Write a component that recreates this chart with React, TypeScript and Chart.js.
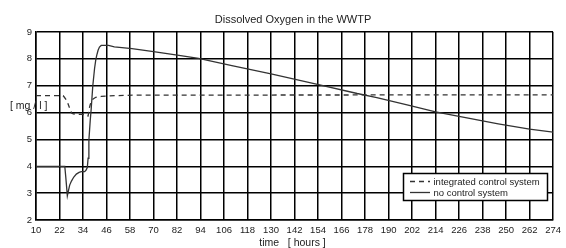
import React, { useEffect, useRef } from 'react';
import { Chart, registerables } from 'chart.js';

Chart.register(...registerables);

const titleText = 'Dissolved Oxygen in the WWTP';
const xTitleText = 'time   [ hours ]';
const yTitleText = '[ mg / l ]';
const legendLabels = ['integrated control system', 'no control system'];

const xTicks = [10, 22, 34, 46, 58, 70, 82, 94, 106, 118, 130, 142, 154, 166, 178, 190, 202, 214, 226, 238, 250, 262, 274];
const yMin = 2;
const yMax = 9;

const noControlHours = [10, 24.7, 25.2, 26.0, 26.6, 27.2, 28.1, 29.3, 30.6, 32, 33.1, 34.8, 35.5, 36.2, 36.6, 37.0, 37.7, 38.2, 39.0, 39.9, 40.5, 41.0, 41.7, 42.4, 43.3, 47, 50, 59, 70, 83, 93, 110, 130, 152, 174, 184, 200, 214, 230, 246, 262, 274];
const noControlValues = [4.0, 4.0, 3.6, 2.9, 3.1, 3.3, 3.45, 3.6, 3.71, 3.77, 3.8, 3.8, 3.85, 3.95, 4.3, 4.97, 5.72, 6.15, 7.0, 7.64, 7.95, 8.13, 8.32, 8.44, 8.5, 8.5, 8.45, 8.38, 8.27, 8.13, 8.02, 7.75, 7.44, 7.08, 6.71, 6.56, 6.28, 6.03, 5.8, 5.58, 5.38, 5.27];

const integratedHours = [10, 23.8, 24.4, 25.6, 26.3, 27.0, 27.6, 28.2, 29, 31, 33, 35.4, 36.0, 36.6, 37.2, 37.7, 38.2, 39.0, 40.5, 43.3, 50, 60, 274];
const integratedValues = [6.63, 6.63, 6.58, 6.46, 6.34, 6.2, 6.09, 5.98, 5.95, 5.94, 5.93, 5.92, 5.88, 5.87, 6.15, 6.3, 6.4, 6.5, 6.57, 6.6, 6.63, 6.65, 6.66];

const FONT = '"Liberation Sans", Arial, sans-serif';
const TEXT = '#222';
const LINE = '#333';

const overlayPlugin = {
  id: 'overlay',
  afterDraw(chart: any) {
    const ctx = chart.ctx as CanvasRenderingContext2D;
    ctx.save();
    ctx.fillStyle = TEXT;
    ctx.textBaseline = 'middle';
    ctx.textAlign = 'center';
    ctx.font = `11px ${FONT}`;
    ctx.fillText(titleText, 293, 20);
    ctx.font = `10.5px ${FONT}`;
    ctx.fillText(xTitleText, 292.5, 243.5);
    ctx.textAlign = 'left';
    ctx.font = `10.5px ${FONT}`;
    ctx.fillText(yTitleText, 10, 106);

    // legend
    const lx = 403.5, ly = 173.5, lw = 144, lh = 27;
    ctx.fillStyle = '#fff';
    ctx.fillRect(lx, ly, lw, lh);
    ctx.strokeStyle = '#000';
    ctx.lineWidth = 1.5;
    ctx.strokeRect(lx, ly, lw, lh);
    ctx.strokeStyle = LINE;
    ctx.lineWidth = 1.3;
    ctx.setLineDash([5, 4]);
    ctx.beginPath();
    ctx.moveTo(410, 181.5);
    ctx.lineTo(430, 181.5);
    ctx.stroke();
    ctx.setLineDash([]);
    ctx.beginPath();
    ctx.moveTo(410, 192.5);
    ctx.lineTo(430, 192.5);
    ctx.stroke();
    ctx.fillStyle = TEXT;
    ctx.font = `9.5px ${FONT}`;
    ctx.fillText(legendLabels[0], 433.5, 182);
    ctx.fillText(legendLabels[1], 433.5, 193);
    ctx.restore();
  },
};

export default function App() {
  const ref = useRef<HTMLCanvasElement>(null);

  useEffect(() => {
    document.body.style.margin = '0';
    const canvas = ref.current;
    if (!canvas) return;
    const chart = new Chart(canvas, {
      type: 'line',
      data: {
        datasets: [
          {
            label: legendLabels[0],
            data: integratedHours.map((h, i) => ({ x: h, y: integratedValues[i] })),
            borderColor: LINE,
            borderWidth: 1.3,
            borderDash: [5, 4],
            pointRadius: 0,
            tension: 0,
            fill: false,
          },
          {
            label: legendLabels[1],
            data: noControlHours.map((h, i) => ({ x: h, y: noControlValues[i] })),
            borderColor: LINE,
            borderWidth: 1.3,
            pointRadius: 0,
            tension: 0,
            fill: false,
          },
        ],
      },
      options: {
        responsive: false,
        animation: false,
        layout: { padding: { top: 32, right: 8, left: 0, bottom: 0 } },
        plugins: {
          legend: { display: false },
          title: { display: false },
          tooltip: { enabled: false },
        },
        scales: {
          x: {
            type: 'linear',
            min: xTicks[0],
            max: xTicks[xTicks.length - 1],
            afterBuildTicks: (scale: any) => {
              scale.ticks = xTicks.map((v) => ({ value: v }));
            },
            afterFit: (scale: any) => {
              scale.height = 28;
            },
            ticks: {
              autoSkip: false,
              maxRotation: 0,
              padding: 5,
              color: TEXT,
              font: { family: FONT, size: 9.5 },
            },
            grid: { color: '#000', lineWidth: 1.5, drawTicks: false },
            border: { color: '#000', width: 1.5 },
          },
          y: {
            min: yMin,
            max: yMax,
            afterFit: (scale: any) => {
              scale.width = 36;
            },
            ticks: {
              stepSize: 1,
              padding: 4,
              color: TEXT,
              font: { family: FONT, size: 9.5 },
            },
            grid: { color: '#000', lineWidth: 1.5, drawTicks: false },
            border: { color: '#000', width: 1.5 },
          },
        },
      },
      plugins: [overlayPlugin],
    });
    return () => chart.destroy();
  }, []);

  return (
    <div style={{ width: 566, height: 248 }}>
      <canvas ref={ref} width={566} height={248} style={{ display: 'block' }} />
    </div>
  );
}
